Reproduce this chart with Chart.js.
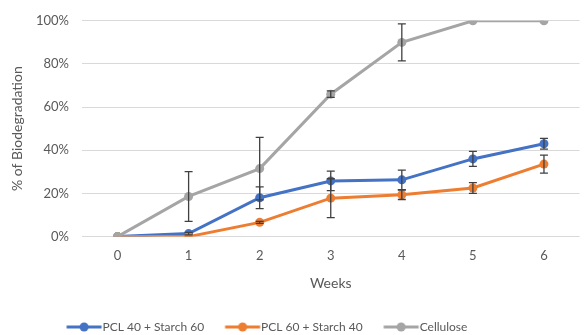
<!DOCTYPE html>
<html>
<head>
<meta charset="utf-8">
<script src="https://cdn.jsdelivr.net/npm/chart.js@4.4.1/dist/chart.umd.min.js"></script>
<style>
  body { margin: 0; background: #fff; }
</style>
</head>
<body>
<canvas id="chart" width="584" height="335"></canvas>
<script>
const weeks = ["0", "1", "2", "3", "4", "5", "6"];
const pcl40Values = [0, 1.4, 18, 25.8, 26.3, 36, 43];
const pcl40Errors = [0, 0.6, 5, 4.5, 4.5, 3.5, 2.5];
const pcl60Values = [0, 0, 6.6, 17.8, 19.4, 22.5, 33.6];
const pcl60Errors = [0, 0, 0.5, 9, 2.2, 2.5, 4.2];
const celluloseValues = [0, 18.6, 31.5, 66, 90, 100, 100];
const celluloseErrors = [0, 11.5, 14.5, 1.5, 8.6, 0, 0];
const yTicks = [0, 20, 40, 60, 80, 100];

const fontFamily = "Lato, 'Open Sans', sans-serif";

// line + dot picture for the legend, like Excel does.
// drawn in a wider canvas so it sits right against the label text
function legendIcon(color) {
  const c = document.createElement("canvas");
  c.width = 60;
  c.height = 10;
  const ctx = c.getContext("2d");
  const x0 = 23.5;
  ctx.strokeStyle = color;
  ctx.lineWidth = 3;
  ctx.beginPath();
  ctx.moveTo(x0, 5);
  ctx.lineTo(x0 + 35, 5);
  ctx.stroke();
  ctx.fillStyle = color;
  ctx.beginPath();
  ctx.arc(x0 + 17.5, 5, 4.5, 0, Math.PI * 2);
  ctx.fill();
  return c;
}

const errorBars = {
  id: "errorBars",
  afterDatasetsDraw(chart) {
    const ctx = chart.ctx;
    const yScale = chart.scales.y;
    ctx.save();
    ctx.strokeStyle = "#404040";
    ctx.lineWidth = 1.3;
    chart.data.datasets.forEach((ds, i) => {
      const meta = chart.getDatasetMeta(i);
      meta.data.forEach((pt, j) => {
        const err = ds.errors[j];
        if (!err) return;
        const top = yScale.getPixelForValue(ds.data[j] + err);
        const bottom = yScale.getPixelForValue(ds.data[j] - err);
        ctx.beginPath();
        ctx.moveTo(pt.x, top);
        ctx.lineTo(pt.x, bottom);
        ctx.moveTo(pt.x - 4, top);
        ctx.lineTo(pt.x + 4, top);
        ctx.moveTo(pt.x - 4, bottom);
        ctx.lineTo(pt.x + 4, bottom);
        ctx.stroke();
      });
    });
    ctx.restore();
  },
};

// Excel's legend sits a bit left of the middle and low in the frame
const legendShift = {
  id: "legendShift",
  afterLayout(chart) {
    chart.legend.right -= 69;
    chart.legend.top += 5;
    chart.legend.bottom += 5;
  },
};

function series(label, values, errors, color, order) {
  return {
    label: label,
    data: values,
    errors: errors,
    borderColor: color,
    backgroundColor: color,
    borderWidth: 3,
    pointRadius: 4.5,
    pointHoverRadius: 4.5,
    pointBorderWidth: 0,
    tension: 0,
    order: order,
    legendIcon: legendIcon(color),
  };
}

new Chart(document.getElementById("chart"), {
  type: "line",
  data: {
    labels: weeks,
    datasets: [
      series("PCL 40 + Starch 60", pcl40Values, pcl40Errors, "#4472C4", 3),
      series("PCL 60 + Starch 40", pcl60Values, pcl60Errors, "#ED7D31", 2),
      series("Cellulose", celluloseValues, celluloseErrors, "#A5A5A5", 1),
    ],
  },
  options: {
    responsive: false,
    animation: false,
    layout: { padding: { top: 14, right: -2, bottom: -3, left: 0 } },
    plugins: {
      tooltip: { enabled: false },
      legend: {
        position: "bottom",
        labels: {
          usePointStyle: true,
          pointStyleWidth: 47,
          padding: 4,
          color: "#595959",
          font: { family: fontFamily, size: 12 },
          sort: (a, b) => a.datasetIndex - b.datasetIndex,
          generateLabels(chart) {
            const items = Chart.defaults.plugins.legend.labels.generateLabels(chart);
            items.forEach((item) => {
              item.pointStyle = chart.data.datasets[item.datasetIndex].legendIcon;
            });
            return items;
          },
        },
      },
    },
    scales: {
      x: {
        offset: true,
        afterFit(scale) {
          // plot runs to the right edge like in the original
          scale.paddingLeft = 0;
          scale.paddingRight = 0;
        },
        grid: { display: false, drawTicks: false },
        border: { display: false },
        ticks: {
          color: "#595959",
          padding: 11,
          font: { family: fontFamily, size: 13 },
        },
        title: {
          display: true,
          text: "Weeks",
          color: "#595959",
          padding: { top: 1, bottom: 20 },
          font: { family: fontFamily, size: 14 },
        },
      },
      y: {
        min: 0,
        max: 100,
        afterBuildTicks(scale) {
          scale.ticks = yTicks.map((v) => ({ value: v }));
        },
        afterFit(scale) {
          scale.width = 82;
        },
        grid: { color: "#D9D9D9", lineWidth: 1, drawTicks: false },
        border: { display: false },
        ticks: {
          color: "#595959",
          padding: 13,
          font: { family: fontFamily, size: 13 },
          callback: (v) => v + "%",
        },
        title: {
          display: true,
          text: "% of Biodegradation",
          color: "#595959",
          padding: { top: 9, bottom: 0 },
          font: { family: fontFamily, size: 14 },
        },
      },
    },
  },
  plugins: [errorBars, legendShift],
});
</script>
</body>
</html>
